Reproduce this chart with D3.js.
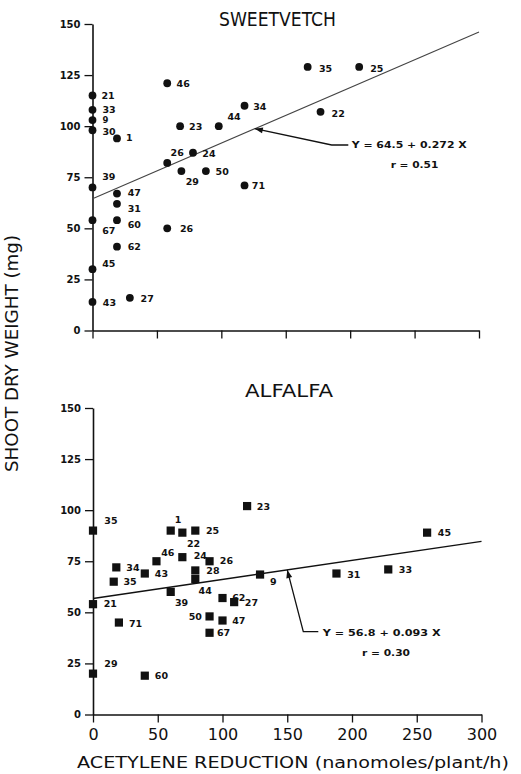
<!DOCTYPE html>
<html><head><meta charset="utf-8">
<script src="https://cdn.jsdelivr.net/npm/d3@7"></script>
<style>body{margin:0;background:#fff}svg{display:block}</style>
</head><body><svg id="c" width="521" height="774"></svg>
<script>
// ---------------- DATA ----------------
const chartTitles = ["SWEETVETCH", "ALFALFA"];
const yTickValues = [0, 25, 50, 75, 100, 125, 150];
const xTickValues = [0, 50, 100, 150, 200, 250, 300];
const xAxisTitle = "ACETYLENE REDUCTION (nanomoles/plant/h)";
const yAxisTitle = "SHOOT DRY WEIGHT (mg)";

const sweetIds = [21, 33, 9, 30, 1, 39, 47, 31, 60, 67, 62, 45, 43, 27, 46, 23, 44, 34, 26, 24, 29, 50, 71, 26, 35, 25, 22];
const sweetX   = [0, 0, 0, 0, 19, 0, 19, 19, 19, 0, 19, 0, 0, 29, 58, 68, 98, 118, 58, 78, 69, 88, 118, 58, 167, 207, 177];
const sweetY   = [115, 108, 103, 98, 94, 70, 67, 62, 54, 54, 41, 30, 14, 16, 121, 100, 100, 110, 82, 87, 78, 78, 71, 50, 129, 129, 107];

const alfIds = [35, 1, 22, 25, 46, 24, 26, 28, 44, 34, 35, 43, 21, 39, 71, 62, 27, 50, 47, 67, 29, 60, 23, 45, 9, 31, 33];
const alfX   = [0, 60, 69, 79, 49, 69, 90, 79, 79, 18, 16, 40, 0, 60, 20, 100, 109, 90, 100, 90, 0, 40, 119, 258, 129, 188, 228];
const alfY   = [90, 90, 89, 90, 75, 77, 75, 70.5, 66.3, 72, 65, 69, 54, 60, 45, 57, 55, 48, 46, 40, 20, 19, 102, 89, 68.5, 69, 71];

const fitIntercept = [64.5, 56.8];
const fitSlope     = [0.272, 0.093];
const fitR         = [0.51, 0.30];
const fitPointerX  = [126, 150];

// ---------------- LAYOUT ----------------
const sweetLabelPos = [[9,3.6],[10,3.3],[10,3.2],[10,4.7],[9,3],[9.7,-7],[10.7,2.7],[10.7,8],[10.7,7.4],[9.7,13.7],[10.7,3.7],[9.7,-2.6],[10.3,3.7],[10.7,3.7],[9.4,4],[9,3.6],[8.7,-5.7],[8.7,4],[3.4,-7],[9.3,4.3],[4.3,13.7],[9.7,3.7],[7.3,4],[12.7,4],[11.3,4.7],[11,4.7],[11,4.7]];
const sweetLabelSize = [9.5, 9.5, 8.5, 9.5];
const alfLabelPos = [[11.3,-6.7],[4,-7.6],[4.6,14.4],[10.7,3],[4.7,-5.3],[11.3,1.6],[10.3,3],[11,4],[3.3,15],[10,3.4],[9.7,3.4],[10,3.3],[10.7,3.3],[4.3,14],[10,4],[9.7,2.7],[10.7,3.7],[-7.6,4,"end"],[9.7,3.7],[7.4,3.7],[11.3,-6.4],[10,3.7],[9.7,3.7],[10.7,3.7],[10,10],[10.7,4],[10.6,3.6]];

const panels = [
  { title: chartTitles[0], ids: sweetIds, xs: sweetX, ys: sweetY, lab: sweetLabelPos, labSize: sweetLabelSize, marker: "circle",
    xr: [92.5, 479], yr: [330.5, 24], showXLabels: false,
    titlePos: [219, 26, 117, 20],
    elbow: [331.7, 145], eqEnd: 348.3, eqPos: [351.7, 148.3, 115], rPos: [390.7, 168.3, 47.7],
    lineColor: "#444", lineW: 1.1 },
  { title: chartTitles[1], ids: alfIds, xs: alfX, ys: alfY, lab: alfLabelPos, labSize: [], marker: "square",
    xr: [93, 481.5], yr: [714.5, 408], showXLabels: true,
    titlePos: [245, 396.7, 88, 18],
    elbow: [303.3, 631.7], eqEnd: 318.3, eqPos: [322.7, 636, 118], rPos: [362, 656, 48],
    lineColor: "#111", lineW: 1.4 }
];

const svg = d3.select("#c");
const FONT = "'DejaVu Sans', 'Liberation Sans', sans-serif";

panels.forEach((p, pi) => {
  const x = d3.scaleLinear().domain([0, 300]).range(p.xr);
  const y = d3.scaleLinear().domain([0, 150]).range(p.yr);
  const g = svg.append("g");

  // y axis
  const ya = g.append("g").attr("transform", `translate(${p.xr[0]},0)`)
    .call(d3.axisLeft(y).tickValues(yTickValues).tickSize(8).tickSizeOuter(0).tickPadding(4));
  ya.select(".domain").attr("stroke", "#111").attr("stroke-width", 1.6);
  ya.selectAll(".tick line").attr("stroke", "#111").attr("stroke-width", 1.3);
  ya.selectAll(".tick text").attr("font-family", FONT).attr("font-weight", "bold")
    .attr("font-size", 10).attr("fill", "#111");

  // x axis
  const xa = g.append("g").attr("transform", `translate(0,${p.yr[0]})`)
    .call(d3.axisBottom(x).tickValues(xTickValues).tickSize(8).tickSizeOuter(0).tickPadding(6));
  xa.select(".domain").attr("stroke", "#111").attr("stroke-width", 1.6);
  xa.selectAll(".tick line").attr("stroke", "#111").attr("stroke-width", 1.3);
  xa.selectAll(".tick text").attr("font-family", FONT).attr("font-size", 16).attr("fill", "#111")
    .style("display", p.showXLabels ? null : "none");

  // regression line
  const a = fitIntercept[pi], b = fitSlope[pi];
  g.append("line")
    .attr("x1", x(0)).attr("y1", y(a))
    .attr("x2", x(300)).attr("y2", y(a + b * 300))
    .attr("stroke", p.lineColor).attr("stroke-width", p.lineW);

  // markers
  const pts = p.ids.map((id, i) => ({ id, x: p.xs[i], y: p.ys[i], lab: p.lab[i], fs: p.labSize[i] || 9.5 }));
  if (p.marker === "circle") {
    g.selectAll("circle.pt").data(pts).join("circle").attr("class", "pt")
      .attr("cx", d => x(d.x)).attr("cy", d => y(d.y)).attr("r", 3.9).attr("fill", "#111");
  } else {
    const s = 8.2;
    g.selectAll("rect.pt").data(pts).join("rect").attr("class", "pt")
      .attr("x", d => x(d.x) - s / 2).attr("y", d => y(d.y) - s / 2)
      .attr("width", s).attr("height", s).attr("fill", "#111");
  }
  g.selectAll("text.lab").data(pts).join("text").attr("class", "lab")
    .attr("x", d => x(d.x) + d.lab[0]).attr("y", d => y(d.y) + d.lab[1])
    .attr("text-anchor", d => d.lab[2] || "start")
    .attr("font-family", FONT).attr("font-weight", "bold").attr("font-size", d => d.fs).attr("fill", "#111")
    .text(d => d.id);

  // title
  g.append("text").attr("x", p.titlePos[0]).attr("y", p.titlePos[1])
    .attr("font-family", FONT).attr("font-size", p.titlePos[3]).attr("fill", "#111")
    .attr("textLength", p.titlePos[2]).attr("lengthAdjust", "spacingAndGlyphs")
    .text(p.title);

  // pointer arrow
  const hx = x(fitPointerX[pi]), hy = y(a + b * fitPointerX[pi]);
  const ex = p.elbow[0], ey = p.elbow[1];
  g.append("path")
    .attr("d", `M${p.eqEnd},${ey}L${ex},${ey}L${hx},${hy}`)
    .attr("fill", "none").attr("stroke", "#111").attr("stroke-width", 1.3);
  const ang = Math.atan2(hy - ey, hx - ex);
  const L = 8, Wd = 3;
  const bx = hx - L * Math.cos(ang), by = hy - L * Math.sin(ang);
  const nx = -Math.sin(ang), ny = Math.cos(ang);
  g.append("path")
    .attr("d", `M${hx},${hy}L${bx + nx * Wd},${by + ny * Wd}L${bx - nx * Wd},${by - ny * Wd}Z`)
    .attr("fill", "#111");

  g.append("text").attr("x", p.eqPos[0]).attr("y", p.eqPos[1])
    .attr("font-family", FONT).attr("font-weight", "bold").attr("font-size", 9.5).attr("fill", "#111")
    .attr("textLength", p.eqPos[2]).attr("lengthAdjust", "spacingAndGlyphs")
    .text(`Y = ${a} + ${b.toFixed(3)} X`);
  g.append("text").attr("x", p.rPos[0]).attr("y", p.rPos[1])
    .attr("font-family", FONT).attr("font-weight", "bold").attr("font-size", 9.5).attr("fill", "#111")
    .attr("textLength", p.rPos[2]).attr("lengthAdjust", "spacingAndGlyphs")
    .text(`r = ${fitR[pi].toFixed(2)}`);
});

// axis titles
svg.append("text").attr("x", 77).attr("y", 768)
  .attr("font-family", FONT).attr("font-size", 16.5).attr("fill", "#111")
  .attr("textLength", 432).attr("lengthAdjust", "spacingAndGlyphs")
  .text(xAxisTitle);
svg.append("text").attr("transform", "translate(18,353.5) rotate(-90)")
  .attr("text-anchor", "middle")
  .attr("font-family", FONT).attr("font-size", 17).attr("fill", "#111")
  .attr("textLength", 237).attr("lengthAdjust", "spacingAndGlyphs")
  .text(yAxisTitle);
</script></body></html>
